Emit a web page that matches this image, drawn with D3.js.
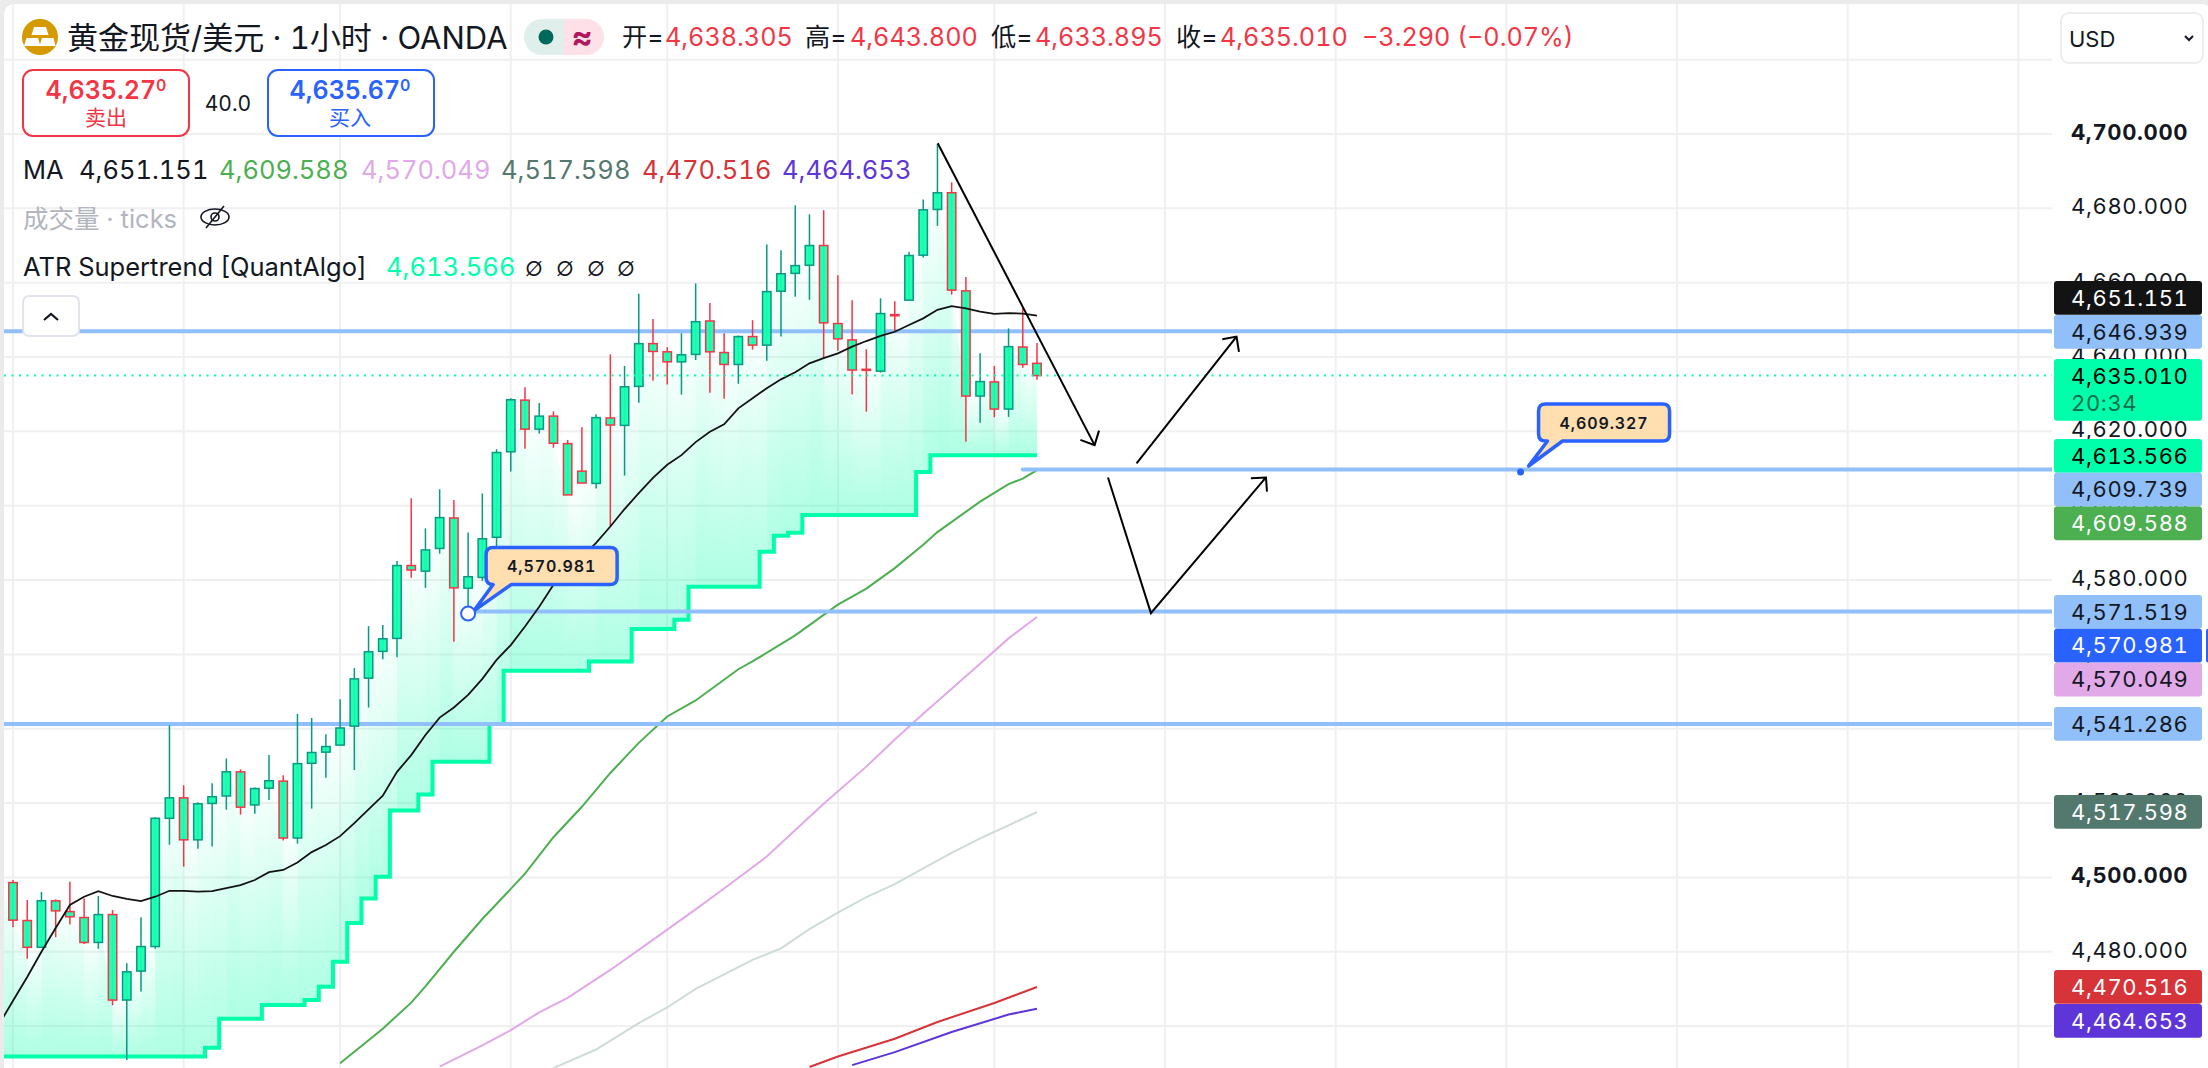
<!DOCTYPE html>
<html>
<head>
<meta charset="utf-8">
<script src="https://cdn.jsdelivr.net/npm/d3@7"></script>
<style>
  html, body { margin: 0; background: #ebebeb; }
  svg { display: block; }
  text { font-family: Inter, "Noto Sans CJK SC", sans-serif; font-variant-numeric: tabular-nums; }
</style>
</head>
<body>
<div id="chart"></div>
<script>
// candles, first one sits just off the left edge (index -1)
const opens = [4495.0,
  4498.6,4488.4,4481.2,4493.7,4490.8,4489.2,4482.5,4490.0,4467.0,4474.8,
  4481.4,4515.9,4521.4,4510.1,4519.9,4521.9,4528.4,4519.5,4524.0,4525.9,
  4510.6,4530.7,4533.7,4535.6,4540.7,4553.6,4560.8,4564.3,4583.9,4582.4,
  4588.5,4596.7,4577.8,4580.7,4591.5,4614.5,4628.4,4620.6,4624.1,4616.7,
  4609.3,4606.0,4623.6,4621.6,4632.1,4643.6,4641.4,4638.7,4640.7,4649.7,
  4641.2,4638.0,4645.5,4643.2,4657.7,4662.5,4664.7,4670.0,4649.0,4644.6,
  4636.7,4636.2,4651.4,4655.3,4667.4,4679.7,4684.2,4657.8,4629.5,4633.3,
  4626.0,4642.7,4638.305];
const highs = [4500.0,
  4499.3,4493.9,4496.1,4494.1,4498.8,4494.3,4495.0,4491.2,4476.9,4489.3,
  4516.2,4540.9,4524.8,4520.2,4525.3,4532.0,4529.1,4524.2,4532.9,4527.5,
  4544.0,4542.9,4538.5,4547.9,4556.3,4567.6,4567.9,4585.1,4602.0,4593.9,
  4604.4,4601.5,4592.8,4603.3,4615.2,4628.9,4631.9,4627.6,4625.4,4617.7,
  4621.1,4624.6,4640.7,4637.6,4657.0,4650.2,4642.6,4646.4,4659.8,4654.5,
  4646.4,4645.8,4649.9,4670.3,4668.7,4680.8,4678.4,4679.5,4662.0,4655.3,
  4642.1,4655.8,4655.0,4668.3,4682.4,4697.3,4687.0,4661.5,4641.0,4637.6,
  4647.7,4653.1,4643.8];
const lows = [4490.0,
  4486.6,4478.1,4481.0,4483.9,4487.3,4482.1,4480.8,4465.6,4450.9,4469.3,
  4480.8,4508.8,4502.9,4507.7,4508.3,4518.2,4516.9,4517.1,4520.8,4509.9,
  4509.1,4518.5,4526.8,4535.6,4528.9,4545.7,4558.7,4559.2,4580.6,4577.9,
  4587.1,4563.4,4570.981,4579.8,4589.0,4609.2,4615.3,4619.4,4615.6,4602.9,
  4606.1,4604.6,4594.4,4608.1,4627.7,4633.6,4632.6,4629.9,4639.2,4630.4,
  4628.8,4632.8,4642.0,4639.0,4645.5,4656.2,4655.4,4639.7,4641.7,4629.9,
  4625.3,4635.8,4646.8,4655.3,4666.8,4675.3,4656.8,4617.2,4622.3,4623.8,
  4623.9,4637.1,4633.895];
const closes = [4498.6,
  4488.5,4481.2,4493.7,4491.0,4489.4,4482.5,4490.0,4467.0,4474.6,4481.4,
  4515.9,4521.4,4510.1,4519.8,4521.7,4528.4,4518.9,4523.9,4526.0,4510.6,
  4530.6,4533.6,4535.2,4540.2,4553.4,4560.7,4564.2,4583.9,4582.7,4588.1,
  4596.8,4577.9,4580.9,4591.1,4614.3,4628.5,4620.6,4624.1,4616.8,4602.9,
  4606.1,4623.7,4621.7,4632.0,4643.6,4641.5,4638.7,4640.6,4649.5,4641.4,
  4638.0,4645.5,4643.2,4657.6,4662.4,4664.6,4670.0,4649.2,4644.9,4636.5,
  4636.5,4651.7,4651.1,4667.3,4679.6,4684.2,4658.0,4629.5,4633.4,4626.0,
  4642.8,4638.0,4635.01];

const supertrend = [4451.8,
  4451.8,4451.8,4451.8,4451.8,4451.8,4451.8,4451.8,4451.8,4451.8,4451.8,
  4451.8,4451.8,4451.8,4451.8,4454.2,4462.0,4462.0,4462.0,4465.7,4465.7,
  4465.7,4467.0,4470.6,4477.3,4487.7,4494.3,4500.2,4518.0,4518.0,4522.3,
  4531.1,4531.1,4531.1,4531.1,4541.3,4555.6,4555.6,4555.6,4555.6,4555.6,
  4555.6,4558.1,4558.1,4558.1,4566.8,4566.8,4566.8,4569.3,4578.2,4578.2,
  4578.2,4578.2,4578.2,4587.6,4591.9,4592.7,4597.5,4597.5,4597.5,4597.5,
  4597.5,4597.5,4597.5,4597.5,4609.1,4613.566,4613.566,4613.566,4613.566,4613.566,
  4613.566,4613.566,4613.566];

// black MA, one value per candle, same start as the candles
const ma20 = [4460.3,
  4466.8,4473.2,4480.0,4486.4,4492.6,4494.8,4496.3,4495.0,4494.2,4493.6,
  4494.8,4496.4,4496.4,4496.2,4496.3,4497.1,4497.9,4499.3,4501.4,4502.0,
  4504.0,4506.8,4508.7,4511.1,4514.6,4518.3,4522.0,4528.4,4532.9,4538.3,
  4543.0,4545.7,4549.1,4553.4,4558.5,4562.5,4567.5,4572.8,4578.7,4582.4,
  4586.2,4590.0,4594.4,4599.1,4603.4,4607.5,4611.0,4613.6,4617.1,4619.9,
  4621.9,4626.2,4628.9,4631.6,4634.0,4635.9,4638.3,4639.7,4641.0,4642.8,
  4644.3,4645.7,4646.8,4648.6,4650.4,4652.7,4653.7,4653.1,4652.2,4651.6,
  4651.8,4651.7,4651.151];

// slower MAs only enter the frame part way along
const ma50Index = [23,26,28,29,31,33,35,36,38,40,42,44,46,48,51,52,55,58,60,62,64,65,68,70,71,72];
const ma50 = [4450.0,4459.3,4466.3,4470.7,4480.0,4488.8,4496.9,4501.0,4510.8,4519.0,4528.1,4536.2,4543.3,
  4547.6,4556.0,4558.1,4565.1,4573.4,4577.7,4583.2,4589.5,4592.9,4601.1,4605.8,4607.3,4609.588];
const ma100Index = [30,33,35,37,39,42,44,48,50,53,57,60,62,64,68,70,72];
const ma100 = [4449.1,4454.8,4458.9,4463.7,4467.6,4475.1,4480.5,4491.4,4497.0,4505.6,4519.8,4529.8,4537.1,
  4544.0,4557.5,4564.3,4570.049];
const ma200Index = [38,41,44,46,48,52,54,56,58,60,62,64,66,68,70,72];
const ma200 = [4448.7,4453.7,4460.8,4465.0,4470.0,4477.8,4480.9,4486.1,4490.5,4494.7,4498.2,4502.4,4506.6,
  4510.5,4514.0,4517.598];
const ma400Index = [56,58,62,65,69,72];
const ma400 = [4449.0,4451.8,4456.6,4461.1,4466.2,4470.516];
const ma500Index = [59,62,66,70,72];
const ma500 = [4449.5,4453.0,4458.4,4463.1,4464.653];

const priceTicks = [4700,4680,4660,4640,4620,4600,4580,4560,4540,4520,4500,4480,4460];
const boldTicks = [4700,4500];
const gridIndex = [0,12,23,35,46,58,69,81,93,105,117,129,141];

// horizontal rays: price and first candle index (null = from the left edge)
const rayPrices = [4646.939,4609.739,4571.519,4541.286];
const rayStart = [null,71,32.5,null];

// hand drawn arrows as [candle index, price]
const arrowPaths = [
  [[65.02,4697.5],[76.05,4616.3]],
  [[76.99,4607.6],[80.01,4571.1],[88.1,4607.6]],
  [[79.0,4611.4],[86.03,4645.5]]
];
const arrowHeads = [
  [[75.05,4617.7],[76.05,4616.3],[76.36,4620.2]],
  [[87.04,4607.4],[88.1,4607.6],[88.17,4603.8]],
  [[85.03,4644.8],[86.03,4645.5],[86.2,4641.4]]
];

// price scale tags
const tagValues = ["4,651.151","4,646.939","4,635.010","4,613.566","4,609.739","4,609.588","4,571.519","4,570.981","4,570.049","4,541.286","4,517.598","4,470.516","4,464.653"];
const tagFill = ["#131313","#90bff9","#00ffaa","#00ffaa","#90bff9","#4caf50","#90bff9","#2962ff","#e1a9e8","#90bff9","#53786e","#d63438","#5d35d8"];
const tagInk = ["#fff","#131722","#000","#000","#131722","#fff","#131722","#fff","#131722","#131722","#fff","#fff","#fff"];
const tagTop = [281,315,359,439,472.8,506.5,595,628.8,662.8,707,795,970,1004];

const width = 2208, height = 1068;
const axisLeft = 2052;

const x = d3.scaleLinear().domain([0, 72]).range([13, 1037]);
const y = d3.scaleLinear().domain([4700, 4500]).range([134, 877.4]);

const GREEN = "#089981", RED = "#f23645", BODY = "#14ffb0", ST = "#00ffaa", BLUE = "#90bff9", TV_BLUE = "#2962ff", INK = "#131722";

const svg = d3.select("#chart").append("svg").attr("width", width).attr("height", height);
const defs = svg.append("defs");

defs.append("clipPath").attr("id", "pane").append("rect")
  .attr("x", 4).attr("y", 4).attr("width", axisLeft - 4).attr("height", height);

svg.append("rect").attr("x", 4).attr("y", 4).attr("width", width).attr("height", height + 20)
  .attr("rx", 10).attr("fill", "#fff");

// vertical grid runs on through the price scale, so it stays outside the pane clip
svg.append("g").selectAll("line").data(gridIndex).join("line")
  .attr("x1", d => x(d)).attr("x2", d => x(d)).attr("y1", 4).attr("y2", height)
  .attr("stroke", "#f0f0f0").attr("stroke-width", 2);

const pane = svg.append("g").attr("clip-path", "url(#pane)");

pane.append("g").selectAll("line").data(priceTicks.concat([4720])).join("line")
  .attr("x1", 4).attr("x2", axisLeft).attr("y1", d => y(d)).attr("y2", d => y(d))
  .attr("stroke", "#f0f0f0").attr("stroke-width", 2);

// supertrend fill, one strip per candle gap, each with its own fade
const idx = d => d - 1; // array position -> candle index
const strips = d3.range(closes.length - 1);
strips.forEach(i => {
  const g = defs.append("linearGradient").attr("id", "fade" + i)
    .attr("gradientUnits", "userSpaceOnUse")
    .attr("x1", 0).attr("x2", 0)
    .attr("y1", y(closes[i])).attr("y2", y(supertrend[i]));
  g.append("stop").attr("offset", 0).attr("stop-color", ST).attr("stop-opacity", 0.03);
  g.append("stop").attr("offset", 1).attr("stop-color", ST).attr("stop-opacity", 0.32);
});
const stripLine = d3.line().x(d => x(d[0])).y(d => y(d[1]));
pane.append("g").selectAll("path").data(strips).join("path")
  .attr("d", i => stripLine([
    [idx(i), closes[i]], [idx(i + 1), closes[i + 1]], [idx(i + 1), supertrend[i + 1]],
    [idx(i) + 0.5, supertrend[i + 1]], [idx(i) + 0.5, supertrend[i]], [idx(i), supertrend[i]]
  ]) + "Z")
  .attr("fill", i => `url(#fade${i})`);

// slow MAs
const maLine = d3.line().x(d => x(d[0])).y(d => y(d[1]));
[[ma50Index, ma50, "#4caf50"], [ma100Index, ma100, "#e1a9e8"], [ma200Index, ma200, "#cfdcd6"],
 [ma400Index, ma400, "#d63438"], [ma500Index, ma500, "#5d35d8"]].forEach(([ix, vals, col]) => {
  pane.append("path").attr("d", maLine(ix.map((d, i) => [d, vals[i]])))
    .attr("fill", "none").attr("stroke", col).attr("stroke-width", 2);
});

// supertrend
pane.append("path")
  .attr("d", d3.line().curve(d3.curveStep).x((d, i) => x(idx(i))).y(d => y(d))(supertrend))
  .attr("fill", "none").attr("stroke", ST).attr("stroke-width", 4);

// rays
pane.append("g").selectAll("line").data(rayPrices).join("line")
  .attr("x1", (d, i) => rayStart[i] === null ? 4 : x(rayStart[i]))
  .attr("x2", axisLeft).attr("y1", d => y(d)).attr("y2", d => y(d))
  .attr("stroke", BLUE).attr("stroke-width", 4).attr("stroke-linecap", "round");

// candles
const candles = pane.append("g").selectAll("g").data(closes).join("g");
candles.append("line")
  .attr("x1", (d, i) => x(idx(i))).attr("x2", (d, i) => x(idx(i)))
  .attr("y1", (d, i) => y(highs[i])).attr("y2", (d, i) => y(lows[i]))
  .attr("stroke", (d, i) => closes[i] < opens[i] ? RED : GREEN).attr("stroke-width", 1.5);
candles.append("rect")
  .attr("x", (d, i) => x(idx(i)) - 4.2).attr("width", 8.4)
  .attr("y", (d, i) => y(Math.max(opens[i], closes[i])))
  .attr("height", (d, i) => Math.max(1, y(Math.min(opens[i], closes[i])) - y(Math.max(opens[i], closes[i]))))
  .attr("fill", BODY).attr("fill-opacity", 0.94)
  .attr("stroke", (d, i) => closes[i] < opens[i] ? RED : GREEN).attr("stroke-width", 1.5);

// black MA
pane.append("path")
  .attr("d", d3.line().x((d, i) => x(idx(i))).y(d => y(d))(ma20))
  .attr("fill", "none").attr("stroke", "#131313").attr("stroke-width", 1.8);

// last price dotted line
pane.append("line").attr("x1", 4).attr("x2", axisLeft)
  .attr("y1", y(closes[closes.length - 1])).attr("y2", y(closes[closes.length - 1]))
  .attr("stroke", ST).attr("stroke-width", 2).attr("stroke-dasharray", "2 5.5");

// hand drawn arrows
const freehand = d3.line().x(d => x(d[0])).y(d => y(d[1]));
pane.append("g").selectAll("path").data(arrowPaths.concat(arrowHeads)).join("path")
  .attr("d", d => freehand(d)).attr("fill", "none").attr("stroke", "#000").attr("stroke-width", 2);

// price note callouts
const callout = (bx, by, bw, bh, baseA, baseB, tipX, tipY, r) =>
  `M${bx + r},${by}H${bx + bw - r}Q${bx + bw},${by} ${bx + bw},${by + r}V${by + bh - r}Q${bx + bw},${by + bh} ${bx + bw - r},${by + bh}` +
  `H${baseB}L${tipX},${tipY}L${baseA},${by + bh}H${bx + r}Q${bx},${by + bh} ${bx},${by + bh - r}V${by + r}Q${bx},${by} ${bx + r},${by}Z`;

const drawNote = (index, price, label, dx, dy, baseA, baseB, tipDx, tipDy) => {
  const ax = x(index), ay = y(price);
  const bx = ax + dx, by = ay + dy;
  svg.append("path").attr("d", callout(bx, by, 131, 37, bx + baseA, bx + baseB, ax + tipDx, ay + tipDy, 7))
    .attr("fill", "#ffdeb0").attr("stroke", TV_BLUE).attr("stroke-width", 3.5).attr("stroke-linejoin", "round");
  svg.append("text").attr("x", bx + 65.5).attr("y", by + 18.5).attr("text-anchor", "middle")
    .attr("dominant-baseline", "central").attr("font-size", 16).attr("font-weight", 600)
    .attr("letter-spacing", 0.9).attr("fill", INK).text(label);
};
drawNote(32, 4570.981, "4,570.981", 18, -66, 7, 25, 6, -3);
svg.append("circle").attr("cx", x(32)).attr("cy", y(4570.981)).attr("r", 7)
  .attr("fill", "#fff").attr("stroke", TV_BLUE).attr("stroke-width", 2);
drawNote(106, 4609.327, "4,609.327", 18, -67, 9, 24, 8, -5);
svg.append("circle").attr("cx", x(106)).attr("cy", y(4609.327) + 1).attr("r", 3.5).attr("fill", TV_BLUE);

// price axis
const axis = d3.axisRight(y).tickValues(priceTicks).tickSize(0).tickPadding(0).tickFormat(d3.format(",.3f"));
const axisG = svg.append("g").attr("transform", "translate(2071,-1.5)").call(axis);
axisG.select(".domain").remove();
axisG.selectAll("text")
  .attr("x", 0)
  .style("font-size", "22px").style("letter-spacing", "0.65px")
  .style("font-weight", d => boldTicks.includes(d) ? 700 : 400)
  .attr("fill", INK);

// tags over the axis
const tags = svg.append("g").selectAll("g").data(tagValues).join("g");
tags.append("rect")
  .attr("x", 2054).attr("width", 148)
  .attr("y", (d, i) => tagTop[i])
  .attr("height", (d, i) => i === 2 ? 61.8 : 33.8)
  .attr("rx", 3).attr("fill", (d, i) => tagFill[i]);
tags.append("text")
  .attr("x", 2071).attr("y", (d, i) => tagTop[i] + 16.5)
  .attr("dominant-baseline", "central")
  .attr("font-size", 22).attr("letter-spacing", 0.65)
  .attr("fill", (d, i) => tagInk[i]).text(d => d);
svg.append("text").attr("x", 2071).attr("y", 403).attr("dominant-baseline", "central")
  .attr("font-size", 22).attr("letter-spacing", 0.65).attr("fill", "#0a6b4c").text("20:34");
svg.append("rect").attr("x", 2206).attr("y", tagTop[7]).attr("width", 4).attr("height", 33.8).attr("rx", 2).attr("fill", TV_BLUE);

// currency select
svg.append("rect").attr("x", 2061).attr("y", 13).attr("width", 142).attr("height", 50).attr("rx", 8)
  .attr("fill", "#fff").attr("stroke", "#e8e8e8").attr("stroke-width", 1.5);
svg.append("text").attr("x", 2069).attr("y", 38.5).attr("dominant-baseline", "central")
  .attr("font-size", 22).attr("fill", INK).text("USD");
svg.append("path").attr("d", "M2185,36l4,4l4,-4").attr("fill", "none").attr("stroke", INK).attr("stroke-width", 2);

// legend
const legendText = (tx, ty, s, col, size, weight, anchor) =>
  svg.append("text").attr("x", tx).attr("y", ty).attr("dominant-baseline", "central")
    .attr("text-anchor", anchor || "start").attr("font-size", size)
    .attr("font-weight", weight || 400).attr("fill", col).text(s);

svg.append("circle").attr("cx", 40).attr("cy", 37).attr("r", 18).attr("fill", "#d49a00");
[["M34,27h12l2.5,8h-17z"], ["M26.5,38h11.5l2.5,8h-16.5z"], ["M42,38h11.5l2,8h-16z"]].forEach(d =>
  svg.append("path").attr("d", d[0]).attr("fill", "#fff"));

legendText(67, 37, "黄金现货/美元 · 1小时 · OANDA", INK, 31);

svg.append("path").attr("d", "M564,19H542a18,18 0 0 0 0,36H564Z").attr("fill", "#e0efec");
svg.append("path").attr("d", "M564,19H586a18,18 0 0 1 0,36H564Z").attr("fill", "#fde0e8");
svg.append("circle").attr("cx", 546).attr("cy", 37).attr("r", 7.5).attr("fill", "#00695c");
legendText(582, 36, "≈", "#b0175f", 32, 700, "middle");

const ohlc = [
  [622, "开=", INK], [665, "4,638.305", RED], [805, "高=", INK], [850, "4,643.800", RED],
  [991, "低=", INK], [1035, "4,633.895", RED], [1176, "收=", INK], [1220, "4,635.010", RED],
  [1362, "−3.290 (−0.07%)", RED]
];
ohlc.forEach(d => legendText(d[0], 37, d[1], d[2], 25.2));

svg.append("rect").attr("x", 23).attr("y", 70).attr("width", 166).attr("height", 66).attr("rx", 10)
  .attr("fill", "#fff").attr("stroke", RED).attr("stroke-width", 2);
svg.append("rect").attr("x", 268).attr("y", 70).attr("width", 166).attr("height", 66).attr("rx", 10)
  .attr("fill", "#fff").attr("stroke", TV_BLUE).attr("stroke-width", 2);
const quote = (cx, s, col) => {
  const t = legendText(cx, 90, s, col, 25, 600, "middle");
  t.append("tspan").attr("font-size", 16).attr("dy", -5).text("0");
};
quote(106, "4,635.27", RED);
quote(350, "4,635.67", TV_BLUE);
legendText(106, 117, "卖出", RED, 21, 400, "middle");
legendText(350, 117, "买入", TV_BLUE, 21, 400, "middle");
legendText(228, 103, "40.0", INK, 21, 400, "middle");

const maRow = [
  [23, "MA", INK], [79, "4,651.151", INK], [219, "4,609.588", "#4caf50"], [361, "4,570.049", "#e1a9e8"],
  [501, "4,517.598", "#53786e"], [642, "4,470.516", "#d63438"], [782, "4,464.653", "#5d35d8"]
];
maRow.forEach(d => legendText(d[0], 169, d[1], d[2], 25.5));

legendText(23, 218, "成交量 · ticks", "#b2b5be", 25.5);
const eye = svg.append("g").attr("fill", "none").attr("stroke", INK).attr("stroke-width", 1.6);
eye.append("ellipse").attr("cx", 215).attr("cy", 217).attr("rx", 14).attr("ry", 8);
eye.append("circle").attr("cx", 215).attr("cy", 217).attr("r", 4);
eye.append("line").attr("x1", 224).attr("y1", 206).attr("x2", 206).attr("y2", 228);

legendText(23, 266, "ATR Supertrend [QuantAlgo]", INK, 25.5);
legendText(386, 266, "4,613.566", ST, 25.5);
[534, 565, 596, 626].forEach(px => legendText(px, 266, "∅", INK, 26, 300, "middle"));

svg.append("rect").attr("x", 23).attr("y", 296).attr("width", 56).attr("height", 40).attr("rx", 6)
  .attr("fill", "#fff").attr("stroke", "#e0e3eb").attr("stroke-width", 2);
svg.append("path").attr("d", "M44,320l7,-6l7,6").attr("fill", "none").attr("stroke", INK).attr("stroke-width", 2.2);
</script>
</body>
</html>
